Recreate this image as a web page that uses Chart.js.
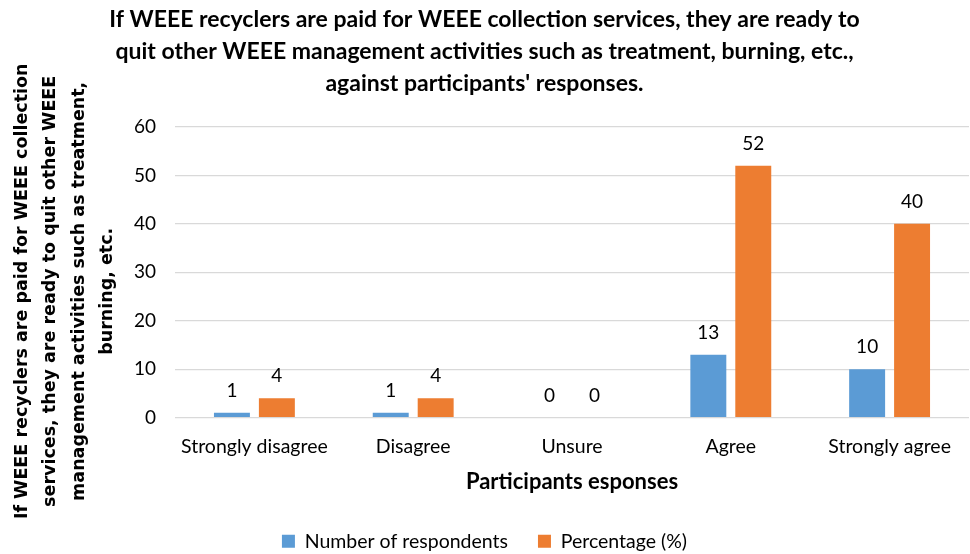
<!DOCTYPE html>
<html>
<head>
<meta charset="utf-8">
<script src="https://cdn.jsdelivr.net/npm/chart.js@4.4.0/dist/chart.umd.min.js"></script>
<style>
  html, body { margin: 0; padding: 0; background: #fff; }
  #wrap { width: 970px; height: 554px; }
</style>
</head>
<body>
<div id="wrap"><canvas id="myChart" width="970" height="554"></canvas></div>
<script>
// values
const categories = ['Strongly disagree', 'Disagree', 'Unsure', 'Agree', 'Strongly agree'];
const respondents = [1, 1, 0, 13, 10];
const percentage = [4, 4, 0, 52, 40];
const yTicks = [0, 10, 20, 30, 40, 50, 60];

const titleLines = [
  'If WEEE recyclers are paid for WEEE collection services, they are ready to',
  'quit other WEEE management activities such as treatment, burning, etc.,',
  "against participants' responses."
];
const yTitleLines = [
  'If WEEE recyclers are paid for WEEE collection',
  'services, they are ready to quit other WEEE',
  'management activities such as treatment,',
  'burning, etc.'
];

const FONT = "Lato, 'Open Sans', sans-serif";

// draws the number above every bar
const barValues = {
  id: 'barValues',
  afterDatasetsDraw(chart) {
    const ctx = chart.ctx;
    ctx.save();
    ctx.font = '19px ' + FONT;
    ctx.fillStyle = '#000';
    ctx.textAlign = 'center';
    ctx.textBaseline = 'middle';
    chart.data.datasets.forEach((ds, i) => {
      chart.getDatasetMeta(i).data.forEach((bar, j) => {
        ctx.fillText(ds.data[j], bar.x, bar.y - 22);
      });
    });
    ctx.restore();
  }
};

// y axis title, drawn by hand so it can sit a little below the plot centre like the original
const yTitle = {
  id: 'yTitle',
  afterDraw(chart) {
    const ctx = chart.ctx;
    const area = chart.chartArea;
    ctx.save();
    ctx.translate(0, (area.top + area.bottom) / 2 + 19);
    ctx.rotate(-Math.PI / 2);
    ctx.font = "bold 17.5px 'DejaVu Sans', sans-serif";
    ctx.fillStyle = '#000';
    ctx.textAlign = 'center';
    ctx.textBaseline = 'middle';
    yTitleLines.forEach((line, i) => {
      ctx.fillText(line, 0, 22 + i * 28.5);
    });
    ctx.restore();
  }
};

new Chart(document.getElementById('myChart'), {
  type: 'bar',
  data: {
    labels: categories,
    datasets: [
      { label: 'Number of respondents', data: respondents, backgroundColor: '#5b9bd5' },
      { label: 'Percentage (%)', data: percentage, backgroundColor: '#ed7d31' }
    ]
  },
  options: {
    responsive: false,
    animation: false,
    categoryPercentage: 0.566,
    barPercentage: 0.8,
    layout: { padding: { left: 0, right: 1, top: 4, bottom: -7 } },
    plugins: {
      title: {
        display: true,
        text: titleLines,
        color: '#000',
        font: { family: FONT, size: 23, weight: 'bold', lineHeight: 1.39 },
        padding: { top: 0, bottom: 27 }
      },
      legend: {
        position: 'bottom',
        labels: {
          color: '#000',
          font: { family: FONT, size: 19.5 },
          boxWidth: 13,
          boxHeight: 13,
          padding: 30
        }
      },
      tooltip: { enabled: false }
    },
    scales: {
      x: {
        grid: { display: false, drawTicks: false },
        border: { display: false },
        ticks: { color: '#000', font: { family: FONT, size: 19.5 }, padding: 17 },
        title: {
          display: true,
          text: 'Participants esponses',
          color: '#000',
          font: { family: FONT, size: 22, weight: 'bold' },
          padding: { top: -6, bottom: 6 }
        }
      },
      y: {
        min: 0,
        max: 60,
        afterBuildTicks(scale) { scale.ticks = yTicks.map(v => ({ value: v })); },
        afterFit(scale) { scale.width = 175; },
        grid: { color: '#d9d9d9', lineWidth: 1.3, drawTicks: false },
        border: { display: false },
        ticks: { color: '#000', font: { family: FONT, size: 19 }, padding: 19 }
      }
    }
  },
  plugins: [barValues, yTitle]
});
</script>
</body>
</html>
